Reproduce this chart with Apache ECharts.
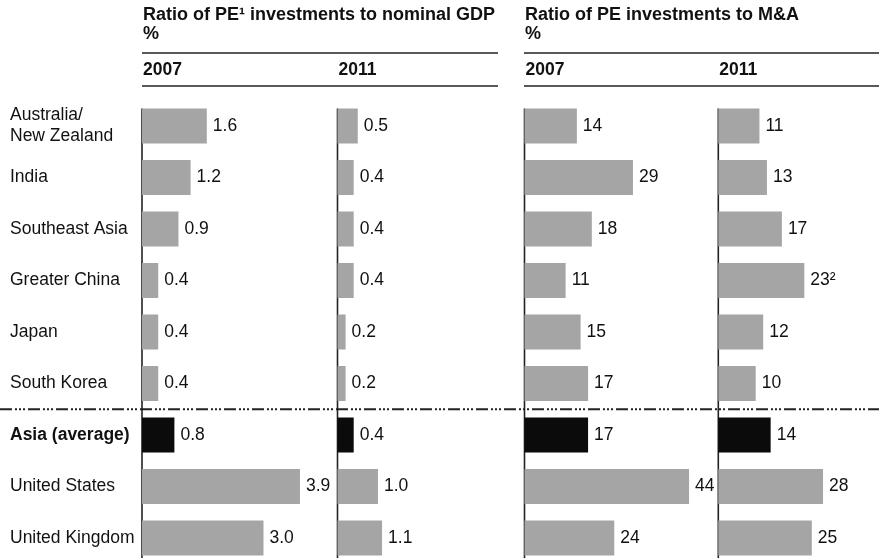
<!DOCTYPE html>
<html>
<head>
<meta charset="utf-8">
<script src="https://cdn.jsdelivr.net/npm/echarts@6/dist/echarts.min.js"></script>
<style>
  html, body { margin: 0; padding: 0; background: #fff; }
  #main { width: 879px; height: 558px; }
</style>
</head>
<body>
<div id="main"></div>
<script>
// categories and values
var categories = ['Australia/\nNew Zealand', 'India', 'Southeast Asia', 'Greater China', 'Japan',
    'South Korea', 'Asia (average)', 'United States', 'United Kingdom'];
var gdp2007 = [1.6, 1.2, 0.9, 0.4, 0.4, 0.4, 0.8, 3.9, 3.0];
var gdp2011 = [0.5, 0.4, 0.4, 0.4, 0.2, 0.2, 0.4, 1.0, 1.1];
var ma2007 = [14, 29, 18, 11, 15, 17, 17, 44, 24];
var ma2011 = [11, 13, 17, 23, 12, 10, 14, 28, 25];
var ma2011Notes = ['', '', '', '²', '', '', '', '', ''];
var yearLabels = ['2007', '2011', '2007', '2011'];
var headerTitles = ['Ratio of PE¹ investments to nominal GDP', 'Ratio of PE investments to M&A'];
var averageName = 'Asia (average)';

var FONT = '"Liberation Sans", Arial, sans-serif';
var GREY = '#a5a5a5';
var BLACK = '#0b0b0b';
var BAR_W = 35;

var chart = echarts.init(document.getElementById('main'));

// panel layout: axis x position, width, max value
var panels = [
    {left: 142, width: 162, max: 4, data: gdp2007, digits: 1},
    {left: 337.5, width: 162, max: 4, data: gdp2011, digits: 1},
    {left: 524.5, width: 168.3, max: 45, data: ma2007, digits: 0},
    {left: 718.3, width: 168.3, max: 45, data: ma2011, digits: 0, notes: ma2011Notes}
];

var grids = [], xAxes = [], yAxes = [], series = [];
panels.forEach(function (p, i) {
    grids.push({left: p.left, top: 100.25, width: p.width, height: 463.5, outerBoundsMode: 'none'});
    xAxes.push({type: 'value', gridIndex: i, min: 0, max: p.max, show: false});
    yAxes.push({
        type: 'category',
        gridIndex: i,
        inverse: true,
        data: categories,
        axisLine: {show: false},
        axisTick: {show: false},
        splitLine: {show: false},
        axisLabel: {
            show: i === 0,
            align: 'left',
            margin: 132,
            fontFamily: FONT,
            fontSize: 17.5,
            lineHeight: 21,
            color: '#111',
            formatter: function (v) {
                return v === averageName ? '{b|' + v + '}' : v;
            },
            rich: {
                b: {fontFamily: FONT, fontSize: 17.5, fontWeight: 'bold', color: '#111'}
            }
        }
    });
    series.push({
        type: 'bar',
        xAxisIndex: i,
        yAxisIndex: i,
        barWidth: BAR_W,
        silent: true,
        animation: false,
        data: p.data.map(function (v, k) {
            return {value: v, itemStyle: {color: categories[k] === averageName ? BLACK : GREY}};
        }),
        label: {
            show: true,
            position: 'right',
            distance: 6,
            fontFamily: FONT,
            fontSize: 17.5,
            color: '#111',
            formatter: function (prm) {
                var txt = prm.value.toFixed(p.digits);
                if (p.notes) txt += p.notes[prm.dataIndex];
                return txt;
            }
        }
    });
});

chart.setOption({
    backgroundColor: '#fff',
    animation: false,
    grid: grids,
    xAxis: xAxes,
    yAxis: yAxes,
    series: series
});

// decorations: headers, rules, axis lines, separator
var g = [];
function txt(s, x, y, size) {
    g.push({type: 'text', x: x, y: y, silent: true,
        style: {text: s, font: 'bold ' + size + 'px ' + FONT, fill: '#111', textVerticalAlign: 'middle'}});
}
function line(x1, y1, x2, y2, w, dash) {
    g.push({type: 'line', silent: true, shape: {x1: x1, y1: y1, x2: x2, y2: y2},
        style: {stroke: '#222', lineWidth: w, lineDash: dash || null}});
}

txt(headerTitles[0], 143, 15, 18);
txt('%', 143, 34, 18);
txt(headerTitles[1], 525, 15, 18);
txt('%', 525, 34, 18);
line(142, 53, 498, 53, 1.5);
line(142, 86, 498, 86, 1.5);
line(524, 53, 879, 53, 1.5);
line(524, 86, 879, 86, 1.5);

panels.forEach(function (p, i) {
    var first = chart.convertToPixel({gridIndex: i}, [0, 0]);
    txt(yearLabels[i], first[0] + 1, 70, 17.5);
    line(first[0], first[1] - BAR_W / 2, first[0], 558, 1.6);
});

// dash-dot separator between South Korea and Asia (average)
var a = chart.convertToPixel({gridIndex: 0}, [0, 5]);
var b = chart.convertToPixel({gridIndex: 0}, [0, 6]);
var sepY = (a[1] + b[1]) / 2;
line(0, sepY, 879, sepY, 2, [12, 3, 2, 2, 2, 2, 2, 3]);

chart.setOption({graphic: {elements: g}});
</script>
</body>
</html>
